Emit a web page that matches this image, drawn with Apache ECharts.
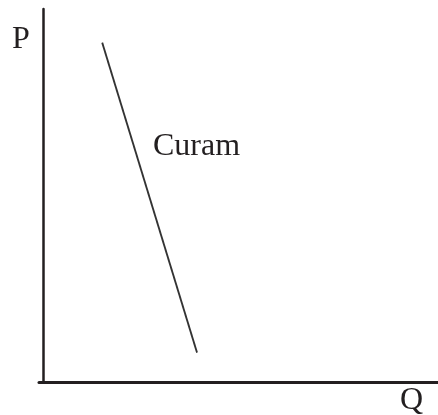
<!DOCTYPE html>
<html>
<head>
<meta charset="utf-8">
<script src="https://cdn.jsdelivr.net/npm/echarts@6/dist/echarts.min.js"></script>
<style>
html,body{margin:0;padding:0;background:#fff;}
#chart{width:438px;height:415px;}
</style>
</head>
<body>
<div id="chart"></div>
<script>
// Demand curve endpoints (Q, P)
const qValues = [15, 39];
const pValues = [91, 8];
const curveLabel = 'Curam';
const yAxisLabel = 'P';
const xAxisLabel = 'Q';

const chart = echarts.init(document.getElementById('chart'));
const ink = '#231f20';
const font = 'Liberation Serif, Times New Roman, serif';

chart.setOption({
  animation: false,
  backgroundColor: '#ffffff',
  grid: { left: 39, right: 0, top: 9, bottom: 32.5, containLabel: false },
  xAxis: {
    type: 'value', min: -1, max: 100,
    axisLine: { show: true, onZero: true, lineStyle: { color: ink, width: 3 } },
    axisTick: { show: false }, axisLabel: { show: false }, splitLine: { show: false }
  },
  yAxis: {
    type: 'value', min: 0, max: 100,
    axisLine: { show: true, onZero: true, lineStyle: { color: ink, width: 2.5 } },
    axisTick: { show: false }, axisLabel: { show: false }, splitLine: { show: false }
  },
  series: [{
    type: 'line',
    data: qValues.map((q, i) => [q, pValues[i]]),
    symbol: 'none',
    lineStyle: { color: '#333333', width: 1.8 },
    z: 3
  }],
  graphic: [
    { type: 'text', left: 12, top: 24, style: { text: yAxisLabel, font: '32px ' + font, fill: ink } },
    { type: 'text', left: 400, top: 385, style: { text: xAxisLabel, font: '32px ' + font, fill: ink } },
    { type: 'text', left: 153, top: 131, style: { text: curveLabel, font: '32px ' + font, fill: ink } }
  ]
});
</script>
</body>
</html>
